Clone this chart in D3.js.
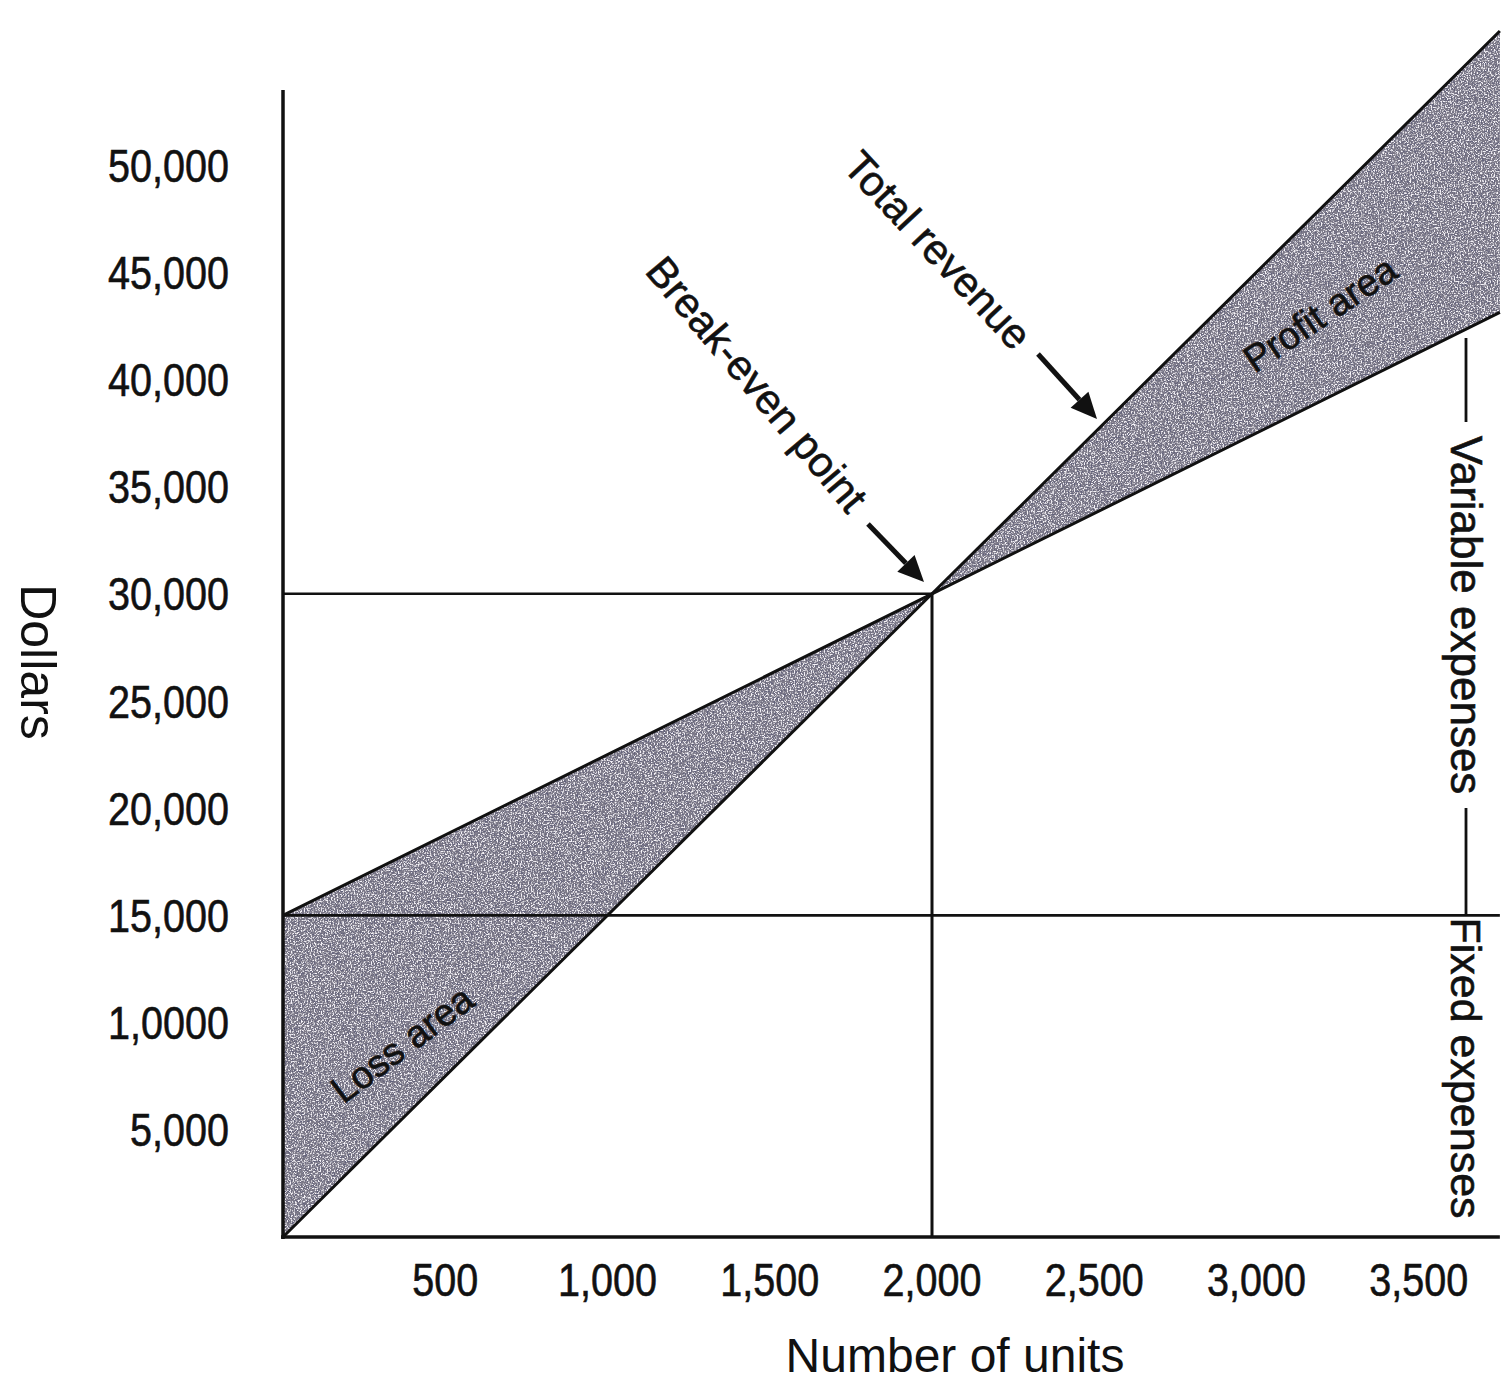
<!DOCTYPE html>
<html>
<head>
<meta charset="utf-8">
<script src="https://cdn.jsdelivr.net/npm/d3@7"></script>
<style>
  html, body { margin: 0; padding: 0; background: #fff; }
  svg { display: block; }
  text { font-family: "Liberation Sans", Arial, sans-serif; fill: #111; }
  .lbl { stroke: #111; stroke-width: 0.6px; }
</style>
</head>
<body>
<svg id="chart"></svg>
<script>
// ---- data ----
const units = [0, 2000, 3750];
const revenue = [0, 30000, 56250];
const totalCost = [15000, 30000, 43125];
const fixedCost = [15000, 15000, 15000];
const breakEvenUnits = 2000;
const breakEvenDollars = 30000;

const yTicks = [5000, 10000, 15000, 20000, 25000, 30000, 35000, 40000, 45000, 50000];
const yTickLabels = ["5,000", "1,0000", "15,000", "20,000", "25,000", "30,000", "35,000", "40,000", "45,000", "50,000"];
const xTicks = [500, 1000, 1500, 2000, 2500, 3000, 3500];
const xTickLabels = ["500", "1,000", "1,500", "2,000", "2,500", "3,000", "3,500"];

(() => {
  const width = 1501, height = 1386;
  const svg = d3.select("#chart").attr("width", width).attr("height", height);

  const x = d3.scaleLinear().domain([0, 2000]).range([283, 932]);
  const y = d3.scaleLinear().domain([0, 50000]).range([1237, 165]);

  // grainy stipple like the printed shading
  const defs = svg.append("defs");
  const f = defs.append("filter").attr("id", "grain")
    .attr("x", 0).attr("y", 0).attr("width", "100%").attr("height", "100%");
  f.append("feTurbulence").attr("type", "fractalNoise").attr("baseFrequency", 0.7)
    .attr("numOctaves", 2).attr("seed", 4).attr("result", "noise");
  f.append("feColorMatrix").attr("in", "noise").attr("type", "matrix")
    .attr("values", "0 0 0 0 0.92  0 0 0 0 0.9  0 0 0 0 0.95  5 0 0 0 -2.5").attr("result", "light");
  f.append("feColorMatrix").attr("in", "noise").attr("type", "matrix")
    .attr("values", "0 0 0 0 0.12  0 0 0 0 0.12  0 0 0 0 0.2  0 5 0 0 -2.4").attr("result", "dark");
  f.append("feComposite").attr("in", "light").attr("in2", "SourceGraphic").attr("operator", "in").attr("result", "lightIn");
  f.append("feComposite").attr("in", "dark").attr("in2", "SourceGraphic").attr("operator", "in").attr("result", "darkIn");
  const m = f.append("feMerge");
  m.append("feMergeNode").attr("in", "SourceGraphic");
  m.append("feMergeNode").attr("in", "darkIn");
  m.append("feMergeNode").attr("in", "lightIn");

  const shade = "#7f7b8a";

  // loss and profit areas between total cost and revenue
  const area = d3.area().x(d => x(d.u)).y0(d => y(d.r)).y1(d => y(d.c));
  const pts = units.map((u, i) => ({ u, r: revenue[i], c: totalCost[i] }));
  svg.append("path").datum(pts.slice(0, 2)).attr("d", area)
    .attr("fill", shade).attr("filter", "url(#grain)");
  svg.append("path").datum(pts.slice(1)).attr("d", area)
    .attr("fill", shade).attr("filter", "url(#grain)");

  const line = d3.line().x(d => x(d[0])).y(d => y(d[1]));
  const stroke = (data, w) => svg.append("path").datum(data).attr("d", line)
    .attr("stroke", "#111").attr("stroke-width", w).attr("fill", "none");

  stroke(units.map((u, i) => [u, fixedCost[i]]), 2.6);
  stroke(units.map((u, i) => [u, revenue[i]]), 3);
  stroke(units.map((u, i) => [u, totalCost[i]]), 3);

  // break-even guides
  stroke([[0, breakEvenDollars], [breakEvenUnits, breakEvenDollars]], 2.6);
  stroke([[breakEvenUnits, breakEvenDollars], [breakEvenUnits, 0]], 3);

  // axes
  svg.append("line").attr("x1", x(0)).attr("x2", x(0)).attr("y1", y(0) + 2).attr("y2", y(53500))
    .attr("stroke", "#111").attr("stroke-width", 3.5);
  svg.append("line").attr("x1", x(0) - 2).attr("x2", x(3750)).attr("y1", y(0)).attr("y2", y(0))
    .attr("stroke", "#111").attr("stroke-width", 3.5);

  svg.append("g").selectAll("text").data(yTicks).join("text")
    .attr("class", "lbl")
    .attr("transform", d => `translate(229,${y(d)}) scale(0.86,1)`).attr("dy", "0.36em")
    .attr("text-anchor", "end").attr("font-size", 46)
    .text((d, i) => yTickLabels[i]);

  svg.append("g").selectAll("text").data(xTicks).join("text")
    .attr("class", "lbl")
    .attr("transform", d => `translate(${x(d)},1296) scale(0.86,1)`)
    .attr("text-anchor", "middle").attr("font-size", 46)
    .text((d, i) => xTickLabels[i]);

  // axis titles
  svg.append("text").attr("transform", "translate(955,1372)")
    .attr("text-anchor", "middle").attr("font-size", 48).attr("fill", "#222")
    .text("Number of units");
  svg.append("text").attr("transform", "translate(38,662) rotate(90)")
    .attr("text-anchor", "middle").attr("dy", "0.35em").attr("font-size", 50).attr("fill", "#444")
    .text("Dollars");

  // area labels
  svg.append("text").attr("class", "lbl").attr("transform", "translate(1320,314) rotate(-34)")
    .attr("text-anchor", "middle").attr("dy", "0.35em").attr("font-size", 38)
    .text("Profit area");
  svg.append("text").attr("class", "lbl").attr("transform", "translate(402,1044) rotate(-37)")
    .attr("text-anchor", "middle").attr("dy", "0.35em").attr("font-size", 38)
    .text("Loss area");

  // callouts
  svg.append("text").attr("class", "lbl").attr("transform", "translate(938,250) rotate(47)")
    .attr("text-anchor", "middle").attr("dy", "0.35em").attr("font-size", 42)
    .text("Total revenue");
  svg.append("text").attr("class", "lbl").attr("transform", "translate(757,384) rotate(50)")
    .attr("text-anchor", "middle").attr("dy", "0.35em").attr("font-size", 42)
    .text("Break-even point");

  const arrow = (x1, y1, x2, y2) => {
    const a = Math.atan2(y2 - y1, x2 - x1), L = 26, W = 12;
    const bx = x2 - L * Math.cos(a), by = y2 - L * Math.sin(a);
    svg.append("line").attr("x1", x1).attr("y1", y1).attr("x2", bx).attr("y2", by)
      .attr("stroke", "#111").attr("stroke-width", 5);
    svg.append("path")
      .attr("d", `M${x2},${y2}L${bx + W * Math.sin(a)},${by - W * Math.cos(a)}L${bx - W * Math.sin(a)},${by + W * Math.cos(a)}Z`)
      .attr("fill", "#111");
  };
  arrow(1038, 354, 1097, 419);
  arrow(868, 524, 924, 582);

  // expense bracket on the right
  const bx = 1466;
  svg.append("line").attr("x1", bx).attr("x2", bx).attr("y1", 338).attr("y2", 422)
    .attr("stroke", "#111").attr("stroke-width", 2.8);
  svg.append("line").attr("x1", bx).attr("x2", bx).attr("y1", 808).attr("y2", y(15000))
    .attr("stroke", "#111").attr("stroke-width", 2.8);
  svg.append("text").attr("class", "lbl").attr("transform", `translate(${bx},615) rotate(90)`)
    .attr("text-anchor", "middle").attr("dy", "0.35em").attr("font-size", 44)
    .text("Variable expenses");
  svg.append("text").attr("class", "lbl").attr("transform", `translate(${bx},1068) rotate(90)`)
    .attr("text-anchor", "middle").attr("dy", "0.35em").attr("font-size", 43)
    .text("Fixed expenses");
})();
</script>
</body>
</html>
